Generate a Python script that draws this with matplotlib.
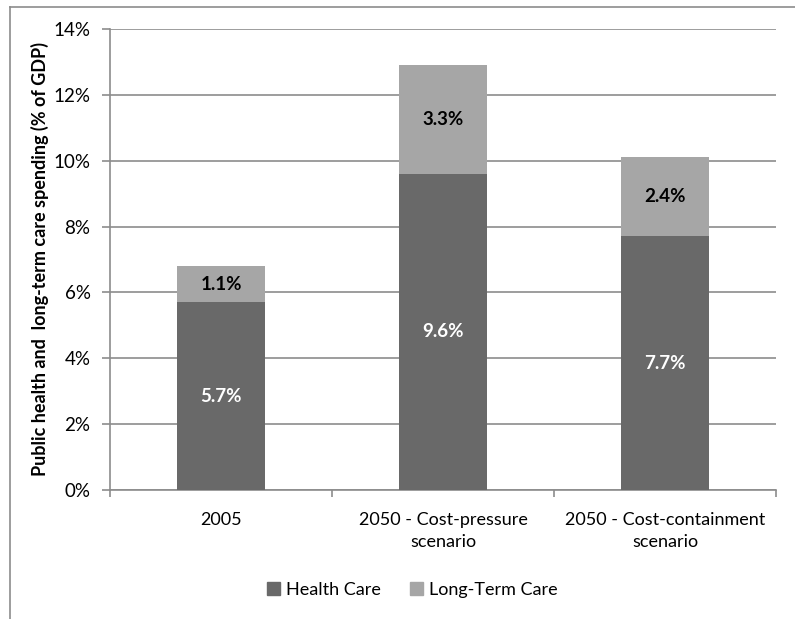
import matplotlib
matplotlib.use("Agg")
import matplotlib.pyplot as plt
from matplotlib.lines import Line2D
from matplotlib.patches import Patch
import numpy as np

categories = ["2005", "2050 - Cost-pressure\nscenario", "2050 - Cost-containment\nscenario"]
health_care = [5.7, 9.6, 7.7]
long_term_care = [1.1, 3.3, 2.4]
y_ticks = [0, 2, 4, 6, 8, 10, 12, 14]

plt.rcParams['font.family'] = ['Lato', 'DejaVu Sans']

dark = "#696969"
light = "#a6a6a6"
grid_col = "#8c8c8c"

fig = plt.figure(figsize=(7.95, 6.19), dpi=100)
ax = fig.add_axes([110 / 795, 1 - 490 / 619, (776 - 110) / 795, (490 - 29) / 619])

x = np.arange(len(categories))
ax.bar(x, health_care, width=0.4, color=dark, zorder=3)
ax.bar(x, long_term_care, width=0.4, bottom=health_care, color=light, zorder=3)

for i in range(len(categories)):
    ax.text(x[i], health_care[i] / 2, f"{health_care[i]:.1f}%", ha="center", va="center",
            color="white", fontsize=13.5, fontweight="bold", zorder=4)
    ax.text(x[i], health_care[i] + long_term_care[i] / 2, f"{long_term_care[i]:.1f}%",
            ha="center", va="center", color="black", fontsize=13.5, fontweight="bold", zorder=4)

ax.set_xlim(-0.5, len(categories) - 0.5)
ax.set_ylim(0, 14)
ax.set_yticks(y_ticks)
ax.set_yticklabels([f"{v}%" for v in y_ticks], fontsize=13.5)
ax.yaxis.grid(True, color=grid_col, linewidth=1.2, zorder=0)

ax.set_xticks(x)
ax.set_xticklabels(categories, fontsize=13, linespacing=1.45)
ax.tick_params(axis="x", which="major", length=0, pad=16)
ax.set_xticks(np.arange(-0.5, len(categories), 1), minor=True)
ax.tick_params(axis="x", which="minor", length=5, color=grid_col, width=1.2)
ax.tick_params(axis="y", length=6, color=grid_col, width=1.2, pad=8)

for side in ["top", "right"]:
    ax.spines[side].set_visible(False)
for side in ["left", "bottom"]:
    ax.spines[side].set_color(grid_col)
    ax.spines[side].set_linewidth(1.2)

ax.set_ylabel("Public health and  long-term care spending (% of GDP)", fontsize=13,
              fontweight="bold", labelpad=3)

handles = [Patch(color=dark, label="Health Care"), Patch(color=light, label="Long-Term Care")]
fig.legend(handles=handles, loc="center", bbox_to_anchor=(412 / 795, 1 - 590 / 619), ncol=2,
           frameon=False, fontsize=13, handlelength=0.75, handleheight=0.75,
           handletextpad=0.3, columnspacing=1.6)

# outer chart border (cropped)
fig.add_artist(Line2D([10 / 795, 10 / 795], [0, 1 - 7 / 619], color=grid_col, linewidth=1.2))
fig.add_artist(Line2D([10 / 795, 1], [1 - 7 / 619, 1 - 7 / 619], color=grid_col, linewidth=1.2))

fig.savefig("out.png", dpi=100)
